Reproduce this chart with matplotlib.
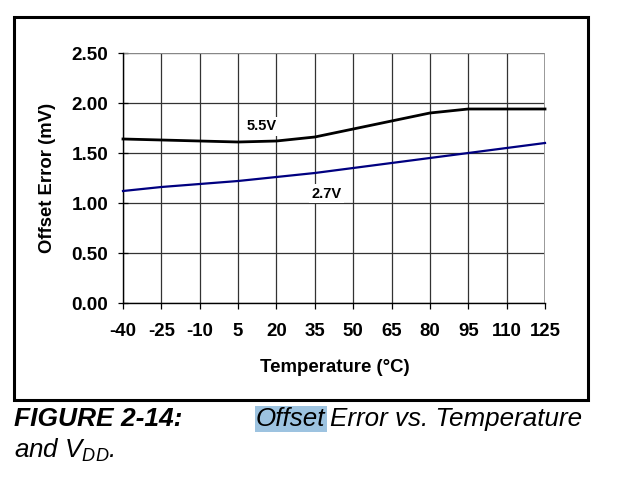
import matplotlib
matplotlib.use("Agg")
import matplotlib.pyplot as plt
from matplotlib.patches import Rectangle

plt.rcParams['font.family'] = ['Liberation Sans', 'DejaVu Sans']
plt.rcParams['mathtext.fontset'] = 'custom'
plt.rcParams['mathtext.it'] = 'Liberation Sans:italic'
plt.rcParams['mathtext.rm'] = 'Liberation Sans:italic'

temps = [-40, -25, -10, 5, 20, 35, 50, 65, 80, 95, 110, 125]
v55 = [1.64, 1.63, 1.62, 1.61, 1.62, 1.66, 1.74, 1.82, 1.90, 1.94, 1.94, 1.94]
v27 = [1.12, 1.16, 1.19, 1.22, 1.26, 1.30, 1.35, 1.40, 1.45, 1.50, 1.55, 1.60]
yticks = [0.0, 0.5, 1.0, 1.5, 2.0, 2.5]
series_labels = ["5.5V", "2.7V"]

W, H = 617, 501
fig = plt.figure(figsize=(W / 100, H / 100), dpi=100)

def fx(x):
    return x / W

def fy(y):
    return 1 - y / H

ax = fig.add_axes([fx(123), fy(303), fx(545) - fx(123), fy(53) - fy(303)])
ax.set_xlim(-40, 125)
ax.set_ylim(0, 2.5)
ax.set_xticks(temps)
ax.set_yticks(yticks)
ax.set_xticklabels([str(t) for t in temps], fontsize=13.4, fontweight='bold')
ax.set_yticklabels([f"{v:.2f}" for v in yticks], fontsize=13.6, fontweight='bold')
ax.grid(True, color='#333333', linewidth=0.9)
ax.set_axisbelow(True)
for s in ['top', 'right']:
    ax.spines[s].set_visible(False)
for s in ['left', 'bottom']:
    ax.spines[s].set_color('black')
    ax.spines[s].set_linewidth(1.0)
ax.tick_params(axis='x', direction='out', length=4, width=0.9, pad=10.5, colors='black')
ax.tick_params(axis='y', direction='inout', length=7, width=0.9, pad=7, colors='black')
# lighter outer grid lines
ax.axhline(2.5, color='#999999', linewidth=1.2, zorder=1)
ax.axvline(125, color='#999999', linewidth=1.4, zorder=1)

ax.plot(temps, v55, color='black', linewidth=2.0, zorder=3, clip_on=False)
ax.plot(temps, v27, color='#000080', linewidth=1.6, zorder=3, clip_on=False)

ax.text(14.2, 1.765, series_labels[0], fontsize=10.5, fontweight='bold', ha='center', va='center',
        bbox=dict(facecolor='white', edgecolor='none', pad=2), zorder=4)
ax.text(39.6, 1.095, series_labels[1], fontsize=10.5, fontweight='bold', ha='center', va='center',
        bbox=dict(facecolor='white', edgecolor='none', pad=2), zorder=4)

fig.text(fx(334.5), fy(368), "Temperature (°C)", fontsize=13.4, fontweight='bold', ha='center', va='center')
fig.text(fx(48), fy(178), "Offset Error (mV)", fontsize=13.3, fontweight='bold', ha='center', va='center',
         rotation=90)

# outer border
fig.patches.append(Rectangle((fx(13.5), fy(400)), fx(588) - fx(13.5), fy(17) - fy(400),
                             transform=fig.transFigure, fill=False, edgecolor='black', linewidth=2.2))

# caption
fig.text(fx(14), fy(419), "FIGURE 2-14:", fontsize=19, fontweight='bold', style='italic',
         ha='left', va='center')
fig.text(fx(256), fy(419), "Offset", fontsize=18.7, style='italic', ha='left', va='center',
         bbox=dict(facecolor='#9dc3e0', edgecolor='none', pad=1))
fig.text(fx(330), fy(419), "Error vs. Temperature", fontsize=18.7, style='italic', ha='left', va='center')
fig.text(fx(14), fy(450), "and $V_{DD}$.", fontsize=18.7, style='italic', ha='left', va='center')

fig.savefig("out.png", dpi=100)
